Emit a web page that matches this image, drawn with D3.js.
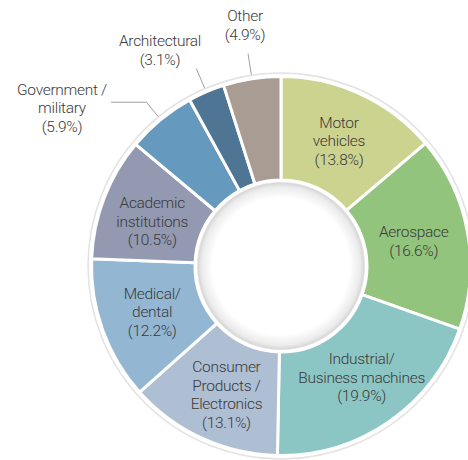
<!DOCTYPE html>
<html>
<head>
<meta charset="utf-8">
<script src="https://cdn.jsdelivr.net/npm/d3@7/dist/d3.min.js"></script>
<style>
  html, body { margin: 0; padding: 0; background: #fff; }
  svg { display: block; }
  text { font-family: Roboto, "Liberation Sans", Arial, sans-serif; fill: #3a3a3a; font-size: 15.5px; font-weight: 300; letter-spacing: -0.3px; }
</style>
</head>
<body>
<svg id="chart" width="468" height="460"></svg>
<script>
// ---- data ----
const categories = [
  "Motor vehicles", "Aerospace", "Industrial/Business machines",
  "Consumer Products / Electronics", "Medical/dental", "Academic institutions",
  "Government / military", "Architectural", "Other"
];
const values = [13.8, 16.6, 19.9, 13.1, 12.2, 10.5, 5.9, 3.1, 4.9];
const labelLines = [
  ["Motor", "vehicles", "(13.8%)"],
  ["Aerospace", "(16.6%)"],
  ["Industrial/", "Business machines", "(19.9%)"],
  ["Consumer", "Products /", "Electronics", "(13.1%)"],
  ["Medical/", "dental", "(12.2%)"],
  ["Academic", "institutions", "(10.5%)"],
  ["Government /", "military", "(5.9%)"],
  ["Architectural", "(3.1%)"],
  ["Other", "(4.9%)"]
];
const colors = ["#ccd38f", "#93c47d", "#8cc6c4", "#aebed3", "#93b7d3",
                "#9299b0", "#6699be", "#4f7594", "#a89c93"];

// ---- layout ----
const cx = 281, cy = 266;
const rOuter = 189.5, rInner = 86;
const lineH = 18.6;
const outside = new Set([6, 7, 8]);
// nudges for inside labels (dx, dy)
const nudge = {0: [0, 0], 1: [-3, 0], 2: [2, -2], 3: [3, 3], 4: [1, -1], 5: [0, 5]};
const outLabel = {
  6: {leader: 212, elbowTo: 111, tx: 62, ty: 108},
  7: {leader: 215, tx: 160, ty: 50},
  8: {leader: 215, tx: 245, ty: 25}
};

const svg = d3.select("#chart");
const defs = svg.append("defs");
const grad = defs.append("radialGradient").attr("id", "holeGrad");
grad.append("stop").attr("offset", "0%").attr("stop-color", "#ffffff");
grad.append("stop").attr("offset", "82%").attr("stop-color", "#ffffff");
grad.append("stop").attr("offset", "95%").attr("stop-color", "#ebebeb");
grad.append("stop").attr("offset", "100%").attr("stop-color", "#d4d4d4");

const g = svg.append("g").attr("transform", `translate(${cx},${cy})`);

const pie = d3.pie().sort(null).value(d => d)(values);
const arc = d3.arc().innerRadius(rInner).outerRadius(rOuter);
const labelArc = d3.arc().innerRadius(138).outerRadius(138);

// faint outer ring
g.append("circle").attr("r", rOuter + 3.5)
  .attr("fill", "none").attr("stroke", "#e2e2e2").attr("stroke-width", 1.5);

g.selectAll("path.slice").data(pie).join("path")
  .attr("class", "slice")
  .attr("d", arc)
  .attr("fill", (d, i) => colors[i])
  .attr("stroke", "#fff")
  .attr("stroke-width", 3)
  .attr("stroke-linejoin", "round");

// hole
g.append("circle").attr("r", rInner + 1).attr("fill", "#fff");
g.append("circle").attr("r", rInner - 2.5).attr("fill", "url(#holeGrad)")
  .attr("stroke", "#e0e0e0").attr("stroke-width", 0.8);

// inside labels
pie.forEach((d, i) => {
  if (outside.has(i)) return;
  const [x, y] = labelArc.centroid(d);
  const n = nudge[i] || [0, 0];
  const lines = labelLines[i];
  const t = g.append("text").attr("text-anchor", "middle");
  lines.forEach((s, k) => {
    t.append("tspan")
      .attr("x", x + n[0])
      .attr("y", y + n[1] + (k - (lines.length - 1) / 2) * lineH)
      .attr("dy", "0.35em")
      .text(s);
  });
});

// outside labels with leader lines
pie.forEach((d, i) => {
  if (!outside.has(i)) return;
  const o = outLabel[i];
  const a = (d.startAngle + d.endAngle) / 2;
  const p0 = [Math.sin(a) * (rOuter + 4), -Math.cos(a) * (rOuter + 4)];
  const p1 = [Math.sin(a) * o.leader, -Math.cos(a) * o.leader];
  const pts = [p0, p1];
  if (o.elbowTo !== undefined) pts.push([o.elbowTo - cx, p1[1]]);
  g.append("path")
    .attr("d", d3.line()(pts))
    .attr("fill", "none").attr("stroke", "#a0a0a0").attr("stroke-width", 1);
  const lines = labelLines[i];
  const t = svg.append("text").attr("text-anchor", "middle");
  lines.forEach((s, k) => {
    t.append("tspan")
      .attr("x", o.tx)
      .attr("y", o.ty + (k - (lines.length - 1) / 2) * lineH)
      .attr("dy", "0.35em")
      .text(s);
  });
});
</script>
</body>
</html>
